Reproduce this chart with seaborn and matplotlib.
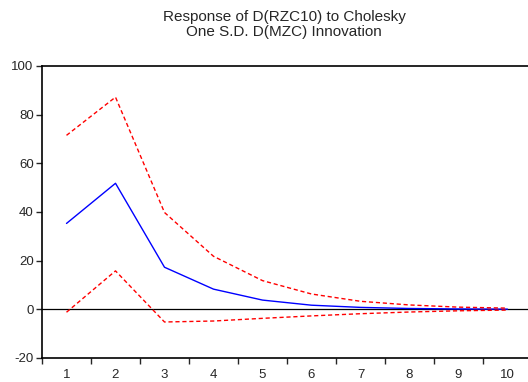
import numpy as np
import pandas as pd
import matplotlib
matplotlib.use('Agg')
import matplotlib.pyplot as plt
import seaborn as sns

# Impulse response values
periods = [1, 2, 3, 4, 5, 6, 7, 8, 9, 10]
response = [35.3, 51.8, 17.3, 8.3, 3.8, 1.7, 0.8, 0.35, 0.15, 0.07]
upper = [71.5, 87.2, 39.8, 21.8, 11.8, 6.3, 3.3, 1.8, 0.9, 0.5]
lower = [-1.2, 15.8, -5.2, -4.8, -3.7, -2.7, -1.8, -1.1, -0.6, -0.3]

df = pd.DataFrame({'period': periods, 'response': response,
                   'upper': upper, 'lower': lower})

sns.set_style('white')
plt.rcParams['font.family'] = ['Liberation Sans', 'DejaVu Sans']
plt.rcParams['axes.unicode_minus'] = False

fig = plt.figure(figsize=(5.28, 3.82), dpi=100)
ax = fig.add_axes([42 / 528, 24 / 382, 490 / 528, 292 / 382])

sns.lineplot(data=df, x='period', y='response', color='blue', lw=1.0, ax=ax)
sns.lineplot(data=df, x='period', y='upper', color='red', lw=1.0,
             linestyle=(0, (3, 2)), ax=ax)
sns.lineplot(data=df, x='period', y='lower', color='red', lw=1.0,
             linestyle=(0, (3, 2)), ax=ax)
ax.axhline(0, color='black', lw=0.9, zorder=0)

ax.set_xlim(0.5, 10.5)
ax.set_ylim(-20, 100)
ax.set_yticks([-20, 0, 20, 40, 60, 80, 100])
ax.set_xticks(periods)
ax.set_xticks(np.arange(0.5, 11, 1), minor=True)
ax.tick_params(axis='x', which='major', length=0, pad=8, labelsize=9.5)
ax.tick_params(axis='x', which='minor', length=4, width=1, direction='out', bottom=True)
ax.tick_params(axis='y', length=4, width=1, direction='out', left=True, labelsize=9.5, pad=2)
ax.set_xlabel('')
ax.set_ylabel('')

for side in ['left', 'bottom', 'top']:
    ax.spines[side].set_color('black')
    ax.spines[side].set_linewidth(1.2)
ax.spines['right'].set_visible(False)

fig.text(0.538, 1 - 10 / 382, 'Response of D(RZC10) to Cholesky\nOne S.D. D(MZC) Innovation',
         ha='center', va='top', fontsize=11, linespacing=1.1)

fig.savefig('out.png', dpi=100)
